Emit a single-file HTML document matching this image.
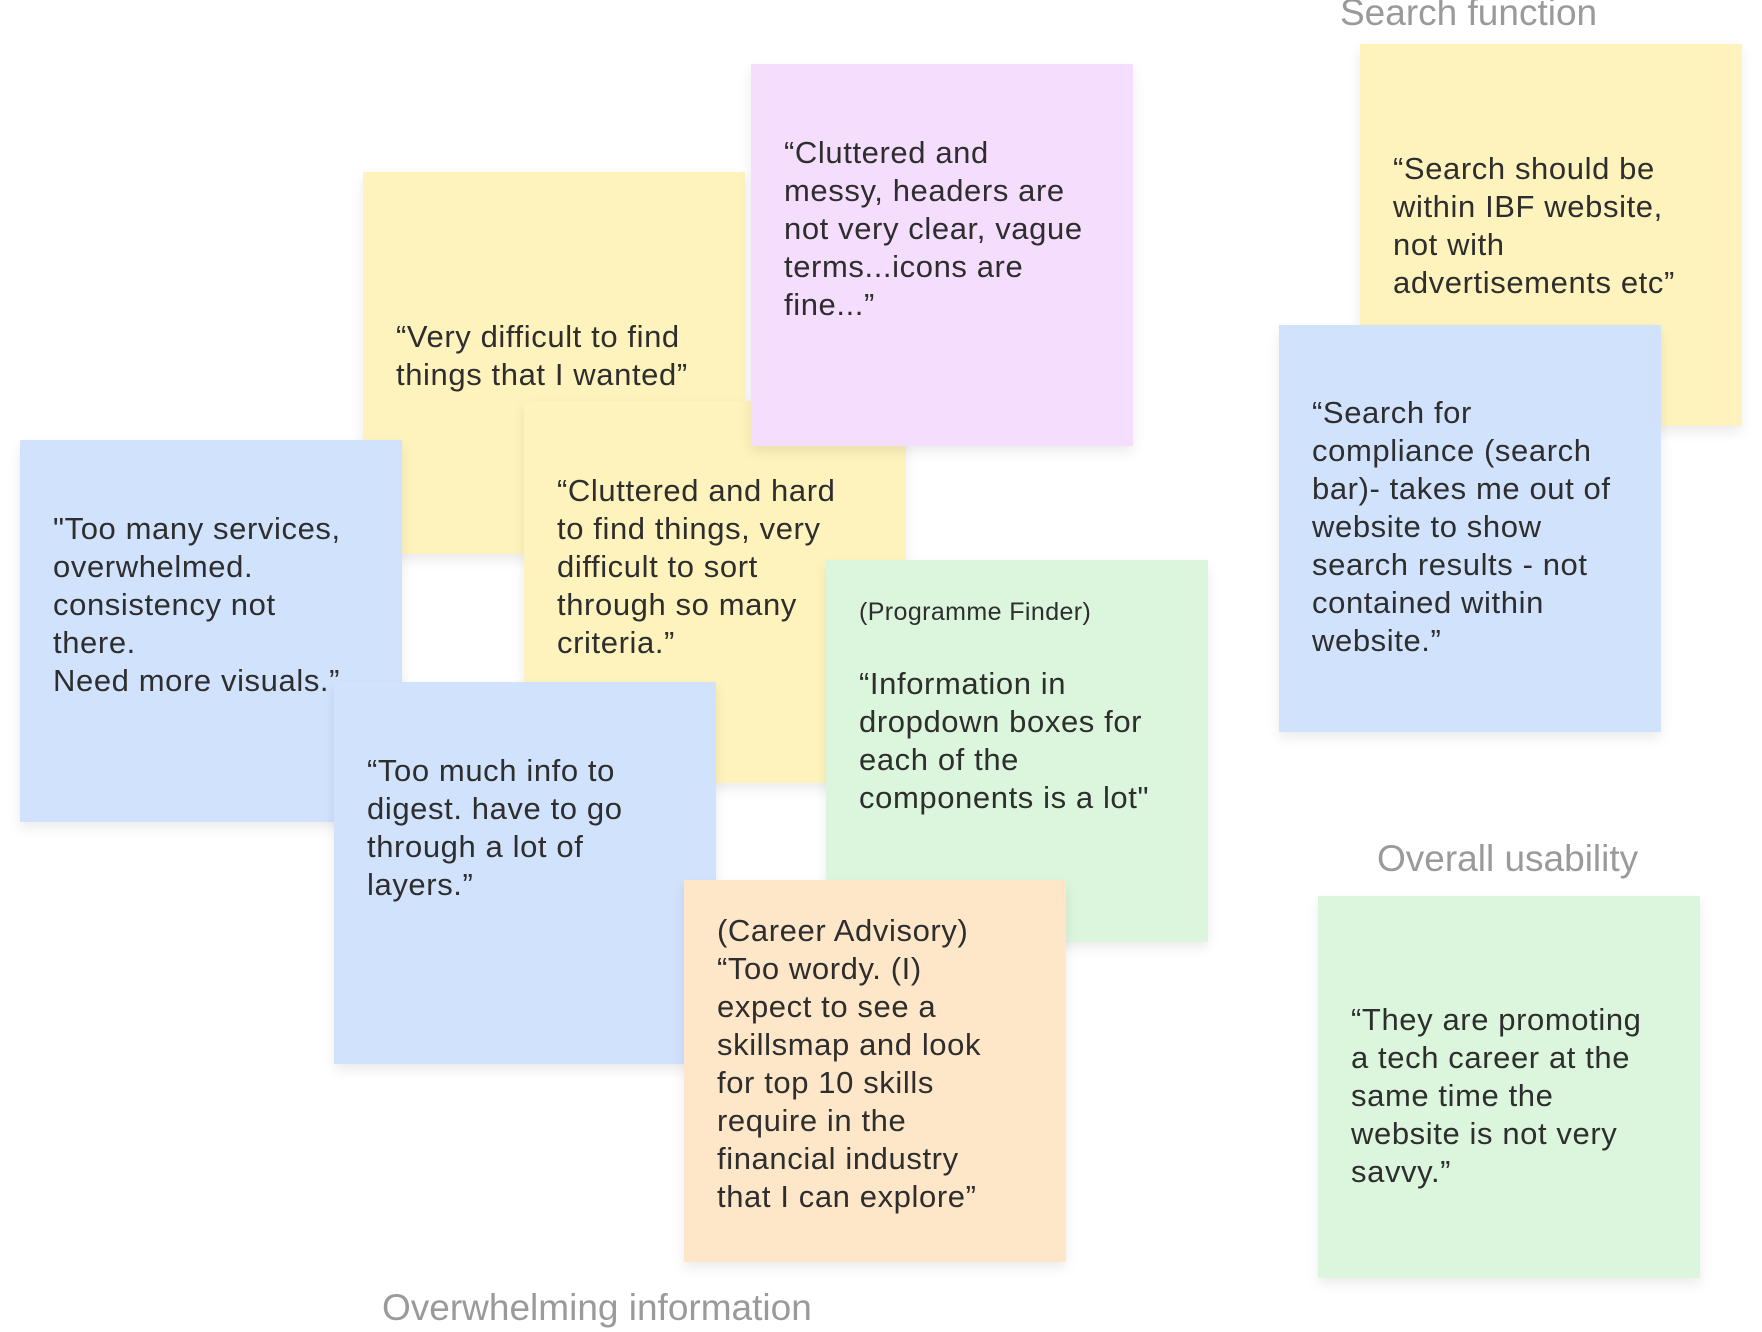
<!DOCTYPE html>
<html><head><meta charset="utf-8"><style>
html,body{margin:0;padding:0;background:#fff;}
body{width:1762px;height:1332px;position:relative;overflow:hidden;font-family:"Liberation Sans",sans-serif;}
.n{position:absolute;width:382px;height:382px;box-shadow:0 6px 12px rgba(0,0,0,0.08);color:#2e2e2e;font-size:31px;line-height:38px;letter-spacing:0.6px;box-sizing:border-box;padding-left:33px;}
.n p{margin:0;position:absolute;left:33px;white-space:nowrap;}
.y{background:#fef2bd;}.p{background:#f5ddfd;}.b{background:#d1e2fd;}.g{background:#dbf6dc;}.o{background:#fee6c8;}
.lab{position:absolute;color:#9a9a9a;font-size:37px;white-space:nowrap;}
</style></head><body>
<div class="lab" style="left:1340px;top:-8px;">Search function</div>
<div class="lab" style="left:1377px;top:838px;">Overall usability</div>
<div class="lab" style="left:382px;top:1287px;">Overwhelming information</div>

<div class="n y" style="left:363px;top:172px;"><p style="top:146px">“Very difficult to find<br>things that I wanted”</p></div>
<div class="n y" style="left:524px;top:401px;"><p style="top:71px">“Cluttered and hard<br>to find things, very<br>difficult to sort<br>through so many<br>criteria.”</p></div>
<div class="n p" style="left:751px;top:64px;"><p style="top:70px">“Cluttered and<br>messy, headers are<br>not very clear, vague<br>terms...icons are<br>fine...”</p></div>
<div class="n b" style="left:20px;top:440px;"><p style="top:70px">"Too many services,<br>overwhelmed.<br>consistency not<br>there.<br>Need more visuals.”</p></div>
<div class="n g" style="left:826px;top:560px;"><p style="top:33px;font-size:25px;letter-spacing:0.4px;">(Programme Finder)</p><p style="top:105px">“Information in<br>dropdown boxes for<br>each of the<br>components is a lot"</p></div>
<div class="n b" style="left:334px;top:682px;"><p style="top:70px">“Too much info to<br>digest. have to go<br>through a lot of<br>layers.”</p></div>
<div class="n o" style="left:684px;top:880px;"><p style="top:32px">(Career Advisory)<br>“Too wordy. (I)<br>expect to see a<br>skillsmap and look<br>for top 10 skills<br>require in the<br>financial industry<br>that I can explore”</p></div>
<div class="n y" style="left:1360px;top:44px;"><p style="top:106px">“Search should be<br>within IBF website,<br>not with<br>advertisements etc”</p></div>
<div class="n b" style="left:1279px;top:325px;height:407px;"><p style="top:69px">“Search for<br>compliance (search<br>bar)- takes me out of<br>website to show<br>search results - not<br>contained within<br>website.”</p></div>
<div class="n g" style="left:1318px;top:896px;"><p style="top:105px">“They are promoting<br>a tech career at the<br>same time the<br>website is not very<br>savvy.”</p></div>
</body></html>
